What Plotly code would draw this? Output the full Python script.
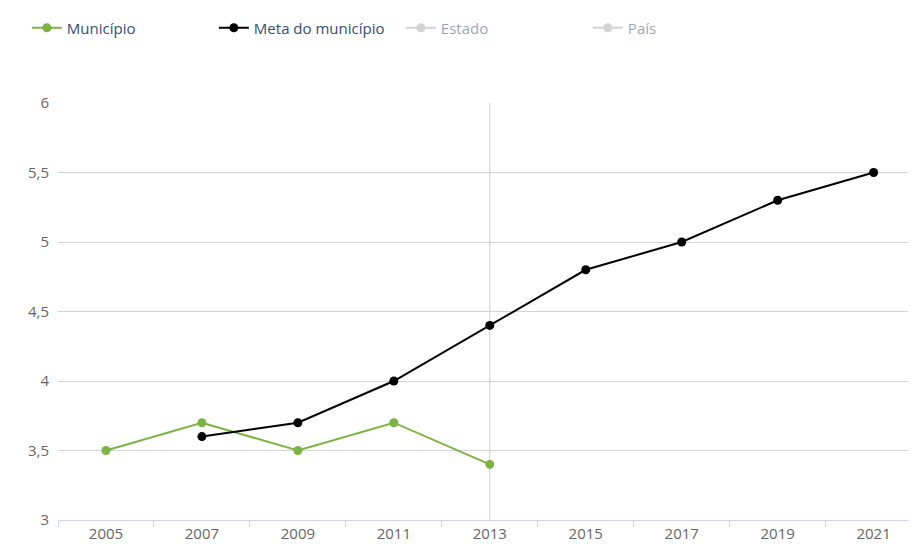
import plotly.graph_objects as go

years = ["2005", "2007", "2009", "2011", "2013", "2015", "2017", "2019", "2021"]
municipio = [3.5, 3.7, 3.5, 3.7, 3.4, None, None, None, None]
meta = [None, 3.6, 3.7, 4.0, 4.4, 4.8, 5.0, 5.3, 5.5]
estado = [None] * 9
pais = [None] * 9
crosshair_year = "2013"

fig = go.Figure()
fig.add_trace(go.Scatter(x=years, y=municipio, name="Município", mode="lines+markers",
                         line=dict(color="#7cb342", width=2), marker=dict(size=9, color="#7cb342")))
fig.add_trace(go.Scatter(x=years, y=meta, name="Meta do município", mode="lines+markers",
                         line=dict(color="#000000", width=2), marker=dict(size=9, color="#000000")))
fig.add_trace(go.Scatter(x=years, y=estado, name="Estado", mode="lines+markers", visible="legendonly",
                         line=dict(color="#aaaaaa", width=2), marker=dict(size=9, color="#aaaaaa")))
fig.add_trace(go.Scatter(x=years, y=pais, name="País", mode="lines+markers", visible="legendonly",
                         line=dict(color="#aaaaaa", width=2), marker=dict(size=9, color="#aaaaaa")))

fig.add_shape(type="line", xref="x", yref="paper", x0=years.index(crosshair_year), x1=years.index(crosshair_year),
              y0=0, y1=1, line=dict(color="#cccccc", width=1), layer="below")

fig.update_layout(
    width=916, height=548,
    margin=dict(l=50, r=12, t=95, b=36),
    plot_bgcolor="white", paper_bgcolor="white",
    separators=",.",
    font=dict(family="Open Sans", size=15, color="#666666"),
    showlegend=True,
    legend=dict(orientation="h", xref="container", yref="container", x=0.0206, y=0.9635,
                xanchor="left", yanchor="middle", entrywidth=142, entrywidthmode="pixels",
                font=dict(color="#334e75", size=15), itemclick=False),
    hovermode=False,
)
fig.update_xaxes(type="category", range=[-0.5, 8.4], showgrid=False,
                 showline=True, linecolor="#ccd6eb", linewidth=1,
                 ticks="outside", tickson="boundaries", ticklen=6, tickcolor="#ccd6eb",
                 tickfont=dict(color="#666666", size=15))
fig.update_yaxes(range=[3, 6], dtick=0.5, showgrid=True, gridcolor="#d4d4d4", gridwidth=1,
                 zeroline=False, showline=False, ticks="", ticklabelstandoff=8,
                 tickfont=dict(color="#666666", size=15))

fig.write_html("out.html")
